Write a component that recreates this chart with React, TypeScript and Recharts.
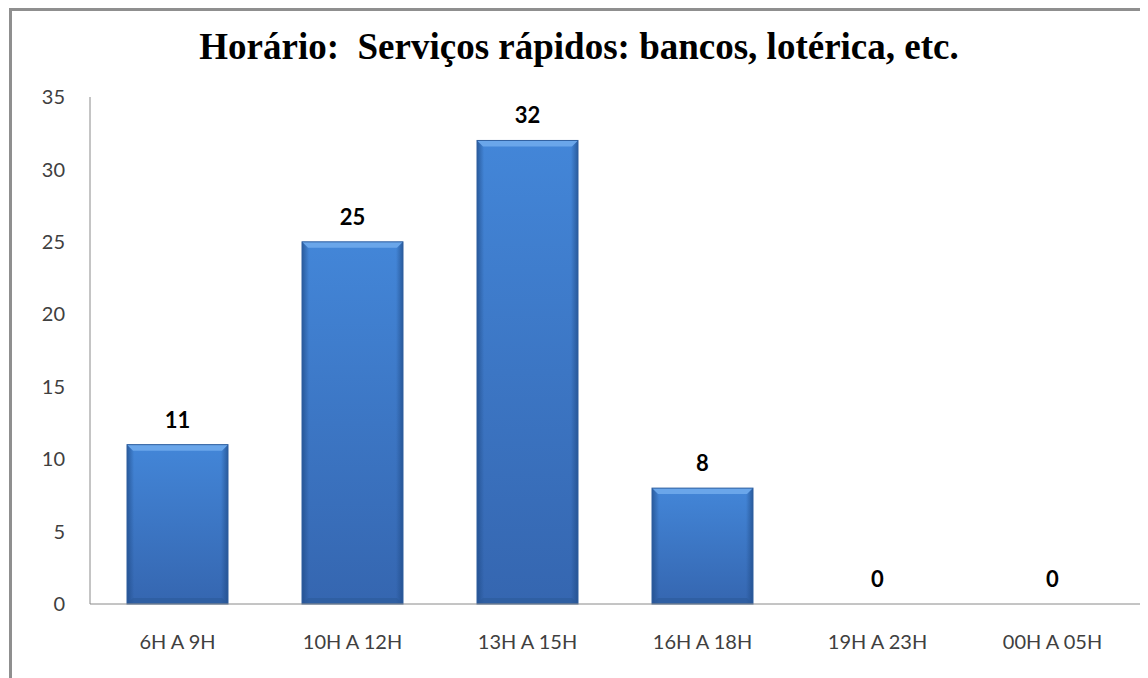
import { BarChart, Bar, XAxis, YAxis, LabelList } from "recharts";

const categorias = ["6H A 9H", "10H A 12H", "13H A 15H", "16H A 18H", "19H A 23H", "00H A 05H"];
const valores = [11, 25, 32, 8, 0, 0];
const yTicks = [0, 5, 10, 15, 20, 25, 30, 35];

const data = categorias.map((c, i) => ({ horario: c, total: valores[i] }));

// barra com "bisel" no estilo do Excel
function BevelBar(props: any) {
  const { x, y, width, height } = props;
  if (!height || height <= 0) return null;
  const b = 6;
  return (
    <g>
      <rect x={x} y={y} width={width} height={height} fill="url(#barV)" />
      <rect x={x} y={y} width={width} height={height} fill="url(#barH)" />
      <polygon
        points={`${x},${y} ${x + width},${y} ${x + width - b},${y + b} ${x + b},${y + b}`}
        fill="#6aa6ea"
      />
      <polygon
        points={`${x},${y + height} ${x + width},${y + height} ${x + width - b},${y + height - b} ${x + b},${y + height - b}`}
        fill="#2c5a99"
        opacity={0.6}
      />
      <rect x={x} y={y} width={width} height={height} fill="none" stroke="#2f5f9f" strokeWidth={1} />
    </g>
  );
}

export default function App() {
  return (
    <div style={{ position: "relative", width: 1140, height: 670 }}>
      <div
        style={{
          position: "absolute",
          left: 1,
          top: 0,
          width: 1200,
          height: 700,
          borderLeft: "3px solid #8f8f8f",
          borderTop: "3px solid #8f8f8f",
        }}
      />
      <div
        style={{
          position: "absolute",
          left: -15,
          top: 17,
          width: 1172,
          textAlign: "center",
          fontFamily: "'Liberation Serif', serif",
          fontWeight: "bold",
          fontSize: 37,
          color: "#000",
          whiteSpace: "nowrap",
        }}
      >
        Horário:&nbsp; Serviços rápidos: bancos, lotérica, etc.
      </div>
      <div style={{ position: "absolute", left: -8, top: -8 }}>
        <BarChart
          width={1148}
          height={678}
          data={data}
          margin={{ top: 97, right: 8, left: 0, bottom: 0 }}
        >
          <defs>
            <linearGradient id="barV" x1="0" y1="0" x2="0" y2="1">
              <stop offset="0%" stopColor="#4386d8" />
              <stop offset="100%" stopColor="#3566b0" />
            </linearGradient>
            <linearGradient id="barH" x1="0" y1="0" x2="1" y2="0">
              <stop offset="0%" stopColor="#1f4a85" stopOpacity={0.7} />
              <stop offset="7%" stopColor="#1f4a85" stopOpacity={0} />
              <stop offset="93%" stopColor="#1f4a85" stopOpacity={0} />
              <stop offset="100%" stopColor="#1f4a85" stopOpacity={0.7} />
            </linearGradient>
          </defs>
          <XAxis
            dataKey="horario"
            height={74}
            stroke="#8a8a8a"
            tickLine={false}
            tickSize={0}
            tickMargin={31}
            tick={{ fill: "#404040", fontSize: 20, fontFamily: "Lato, sans-serif" }}
          />
          <YAxis
            width={90}
            domain={[0, 35]}
            ticks={yTicks}
            interval={0}
            stroke="#8a8a8a"
            tickLine={false}
            tickSize={0}
            tickMargin={25}
            tick={{ fill: "#404040", fontSize: 20, fontFamily: "Lato, sans-serif" }}
          />
          <Bar dataKey="total" barSize={101} shape={<BevelBar />} isAnimationActive={false}>
            <LabelList
              dataKey="total"
              position="top"
              offset={17}
              style={{ fill: "#000", fontSize: 22, fontWeight: "bold", fontFamily: "Lato, sans-serif" }}
            />
          </Bar>
        </BarChart>
      </div>
    </div>
  );
}
